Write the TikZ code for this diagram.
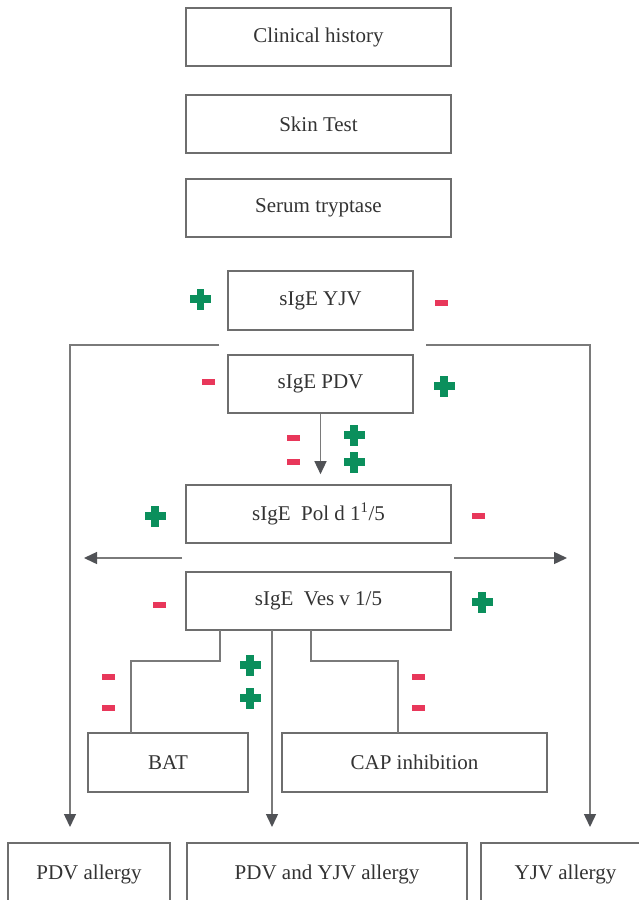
\documentclass[tikz,border=0pt]{standalone}
\usepackage{fontspec}
\setmainfont{Liberation Serif}
\usetikzlibrary{arrows.meta}
\definecolor{boxgray}{HTML}{6E6E6E}
\definecolor{linegray}{HTML}{7A7A7A}
\definecolor{tipgray}{HTML}{505256}
\definecolor{txtgray}{HTML}{333333}
\definecolor{pgreen}{HTML}{0B8F5C}
\definecolor{mred}{HTML}{E8375A}
\tikzset{
  box/.style={draw=boxgray, line width=1.6pt, inner sep=0pt, text=txtgray,
    font=\fontsize{21}{25}\selectfont, minimum height=58pt},
  ln/.style={draw=linegray, line width=1.4pt},
  arr/.style={ln, -{Triangle[width=12pt,length=13pt,fill=tipgray,color=tipgray]}},
  pics/plussign/.style={code={
    \fill[pgreen] (-10.5,-3.6) rectangle (10.5,3.6);
    \fill[pgreen] (-3.6,-10.5) rectangle (3.6,10.5);}},
  pics/minussign/.style={code={
    \fill[mred] (-6.5,-3.2) rectangle (6.5,3.2);}}
}
\begin{document}
\begin{tikzpicture}[x=1pt,y=-1pt]
\useasboundingbox[fill=white] (0,0) rectangle (638,900);
% boxes
\node[box, minimum width=265pt] (ch) at (318.5,37) {Clinical history};
\node[box, minimum width=265pt] (st) at (318.5,124) {Skin Test};
\node[box, minimum width=265pt] (ser) at (318.5,208) {Serum tryptase};
\node[box, minimum width=185pt, minimum height=59pt] (yjv) at (320.5,300.5) {sIgE YJV};
\node[box, minimum width=185pt] (pdv) at (320.5,384) {sIgE PDV};
\node[box, minimum width=265pt] (pol) at (318.5,514) {sIgE\ \ Pol d 1\textsuperscript{1}/5};
\node[box, minimum width=265pt] (ves) at (318.5,601) {sIgE\ \ Ves v 1/5};
\node[box, minimum width=160pt, minimum height=59pt] (bat) at (168,762.5) {BAT};
\node[box, minimum width=265pt, minimum height=59pt] (cap) at (414.5,762.5) {CAP inhibition};
\node[box, minimum width=162pt, minimum height=62pt] (pa) at (89,874) {PDV allergy};
\node[box, minimum width=280pt, minimum height=62pt] (pya) at (327,874) {PDV and YJV allergy};
\node[box, minimum width=169pt, minimum height=62pt] (ya) at (565.5,874) {YJV allergy};
% coordinates
\coordinate (yl) at (219,345);
\coordinate (yr) at (426,345);
\coordinate (paT) at (70,843);
\coordinate (yaT) at (590,843);
\coordinate (hl) at (182,558);
\coordinate (hlt) at (84,558);
\coordinate (hr) at (454,558);
\coordinate (hrt) at (567,558);
\coordinate (v1) at (220,630);
\coordinate (v2) at (272,630);
\coordinate (v3) at (311,630);
\coordinate (b1) at (131,733);
\coordinate (c1) at (398,733);
\coordinate (mT) at (272,843);
% connectors
\draw[arr, shorten >=16pt] (yl) -| (paT);
\draw[arr, shorten >=16pt] (yr) -| (yaT);
\draw[arr, shorten >=10pt] (pdv.south) -- (pdv.south |- pol.north);
\draw[arr] (hl) -- (hlt);
\draw[arr] (hr) -- (hrt);
\draw[ln] (v1) |- (131,661) -- (b1);
\draw[ln] (v3) |- (398,661) -- (c1);
\draw[arr, shorten >=16pt] (v2) -- (mT);
% signs
\pic at (200.5,299) {plussign};
\pic at (441,303) {minussign};
\pic at (208,382) {minussign};
\pic at (444,386) {plussign};
\pic at (293,438) {minussign};
\pic at (293,462) {minussign};
\pic at (354,435) {plussign};
\pic at (354,462) {plussign};
\pic at (155,516) {plussign};
\pic at (478,516) {minussign};
\pic at (159,605) {minussign};
\pic at (482,602) {plussign};
\pic at (108,677) {minussign};
\pic at (108,708) {minussign};
\pic at (250,665) {plussign};
\pic at (250,698) {plussign};
\pic at (418,677) {minussign};
\pic at (418,708) {minussign};
\end{tikzpicture}
\end{document}
